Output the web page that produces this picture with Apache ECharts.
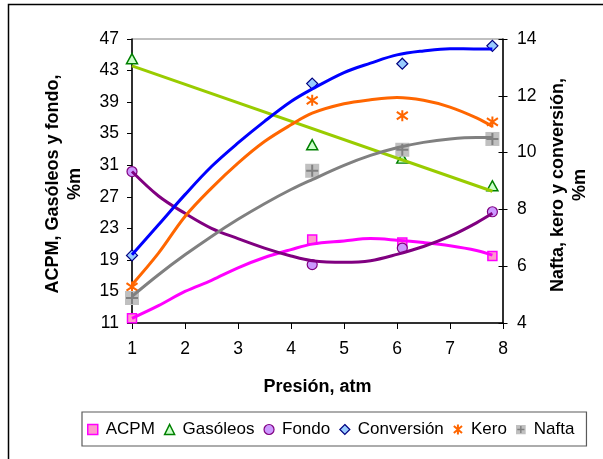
<!DOCTYPE html>
<html>
<head>
<meta charset="utf-8">
<script src="https://cdn.jsdelivr.net/npm/echarts@6/dist/echarts.min.js"></script>
<style>
  html, body { margin: 0; padding: 0; background: #fff; }
  #chart { width: 603px; height: 459px; }
</style>
</head>
<body>
<div id="chart"></div>
<script>
// Measured yields (%m) at each reactor pressure (atm)
const pressure   = [1, 4.4, 6.1, 7.8];
const acpm       = [11.6, 21.6, 21.2, 19.5];
const gasoleos   = [44.5, 33.6, 31.9, 28.4];
const fondo      = [30.2, 18.4, 20.5, 25.1];
const conversion = [6.38, 12.43, 13.13, 13.76];
const kero       = [5.27, 11.84, 11.3, 11.08];
const nafta      = [4.88, 9.36, 10.1, 10.48];

// Trend curves for each product
const trendX          = [1, 1.5, 2, 2.5, 3, 3.5, 4, 4.4, 5, 5.5, 6, 6.5, 7, 7.5, 7.8];
const acpmTrend       = [11.6, 13.2, 15.0, 16.4, 18.0, 19.3, 20.3, 21.0, 21.4, 21.7, 21.5, 21.2, 20.8, 20.2, 19.6];
const fondoTrend      = [30.2, 27.1, 24.9, 23.0, 21.7, 20.5, 19.5, 18.9, 18.7, 18.9, 19.7, 20.7, 22.0, 23.7, 24.9];
const conversionTrend = [6.4, 7.46, 8.52, 9.51, 10.34, 11.1, 11.8, 12.24, 12.82, 13.15, 13.44, 13.58, 13.66, 13.65, 13.65];
const keroTrend       = [5.35, 6.46, 7.75, 8.75, 9.63, 10.39, 10.98, 11.39, 11.72, 11.86, 11.94, 11.84, 11.6, 11.22, 10.92];
const naftaTrend      = [4.94, 5.7, 6.4, 7.05, 7.65, 8.2, 8.7, 9.05, 9.55, 9.9, 10.17, 10.36, 10.48, 10.53, 10.53];
const gasoleosTrendX  = [1, 7.8];
const gasoleosTrend   = [43.6, 27.7];

// Axis tick values
const xTicks     = [1, 2, 3, 4, 5, 6, 7, 8];
const leftTicks  = [11, 15, 19, 23, 27, 31, 35, 39, 43, 47];
const rightTicks = [4, 6, 8, 10, 12, 14];

const FONT = '"Liberation Sans", Arial, sans-serif';
const pairs = (xs, ys) => xs.map((x, i) => [x, ys[i]]);

const starPath = 'path://M5 0V10M0.9 1.6L9.1 8.4M0.9 8.4L9.1 1.6';
const plusPath = 'path://M5 0V10M0 5H10';
const naftaIcon = 'image://data:image/svg+xml;charset=utf-8,' + encodeURIComponent(
  '<svg xmlns="http://www.w3.org/2000/svg" width="14" height="14">' +
  '<rect width="14" height="14" fill="#C0C0C0"/>' +
  '<path d="M7 2V12M2 7H12" stroke="#808080" stroke-width="2"/></svg>');

function trend(name, xs, ys, color, axis) {
  return {
    name: name, type: 'line', yAxisIndex: axis,
    data: pairs(xs, ys), smooth: 0.35, showSymbol: false, symbol: 'none',
    lineStyle: { color: color, width: 3 }, itemStyle: { color: color },
    silent: true, z: 3
  };
}
function marks(name, ys, axis, symbol, size, fill, border, bw) {
  return {
    name: name, type: 'scatter', yAxisIndex: axis,
    data: pairs(pressure, ys), symbol: symbol, symbolSize: size,
    itemStyle: { color: fill, borderColor: border, borderWidth: bw, opacity: 1 },
    z: 2
  };
}

const chart = echarts.init(document.getElementById('chart'), null, { renderer: 'canvas' });
chart.setOption({
  animation: false,
  backgroundColor: '#fff',
  textStyle: { fontFamily: FONT },
  grid: {
    left: 132, top: 39, width: 371, height: 284,
    show: true, borderColor: '#808080', borderWidth: 1, backgroundColor: 'transparent'
  },
  xAxis: {
    type: 'value', min: xTicks[0], max: xTicks[xTicks.length - 1], interval: 1,
    name: 'Presión, atm', nameLocation: 'middle', nameGap: 55,
    nameTextStyle: { fontFamily: FONT, fontWeight: 'bold', fontSize: 18, color: '#000' },
    axisLine: { lineStyle: { color: '#000', width: 1.5 } },
    axisTick: { length: 6, lineStyle: { color: '#000', width: 1 } },
    axisLabel: { fontFamily: FONT, fontSize: 17.5, color: '#000', margin: 17 },
    splitLine: { show: false }
  },
  yAxis: [
    {
      type: 'value', position: 'left', min: 11, max: 47,
      axisLine: { show: true, lineStyle: { color: '#000', width: 1.5 } },
      axisTick: { show: true, length: 5, customValues: leftTicks, lineStyle: { color: '#000', width: 1 } },
      axisLabel: { customValues: leftTicks, fontFamily: FONT, fontSize: 17.5, color: '#000', margin: 13 },
      splitLine: { show: false }
    },
    {
      type: 'value', position: 'right', min: 4, max: 14, interval: 2,
      axisLine: { show: true, lineStyle: { color: '#000', width: 1.5 } },
      axisTick: { show: true, length: 4.5, customValues: rightTicks, lineStyle: { color: '#000', width: 1 } },
      axisLabel: { customValues: rightTicks, fontFamily: FONT, fontSize: 17.5, color: '#000', margin: 14 },
      splitLine: { show: false }
    },
    {
      // inner half of the crossing ticks on the right axis
      type: 'value', position: 'right', min: 4, max: 14, interval: 2,
      axisLine: { show: false },
      axisTick: { show: true, inside: true, length: 4.5, lineStyle: { color: '#000', width: 1 } },
      axisLabel: { show: false },
      splitLine: { show: false }
    }
  ],
  legend: {
    left: 82, top: 412,
    padding: [9, 12, 8, 5],
    itemWidth: 10, itemHeight: 10, itemGap: 9,
    borderColor: '#5a5a5a', borderWidth: 1.2,
    selectedMode: false,
    textStyle: { fontFamily: FONT, fontSize: 17, color: '#000', padding: [0, 0, 0, 3] },
    data: [
      { name: 'ACPM', icon: 'rect', itemStyle: { color: '#FF99CC', borderColor: '#FF00FF', borderWidth: 1.5 } },
      { name: 'Gasóleos', icon: 'triangle', itemStyle: { color: '#CCFFCC', borderColor: '#008000', borderWidth: 1.5 } },
      { name: 'Fondo', icon: 'circle', itemStyle: { color: '#CC99FF', borderColor: '#800080', borderWidth: 1.2 } },
      { name: 'Conversión', icon: 'diamond', itemStyle: { color: '#99CCFF', borderColor: '#000080', borderWidth: 1.2 } },
      { name: 'Kero', icon: starPath, itemStyle: { color: 'transparent', borderColor: '#FF6600', borderWidth: 2 } },
      { name: 'Nafta', icon: naftaIcon }
    ]
  },
  graphic: [
    {
      type: 'rect', silent: true, z: -10,
      shape: { x: 8.5, y: 4.5, width: 700, height: 600 },
      style: { fill: 'none', stroke: '#000', lineWidth: 1.5 }
    },
    {
      type: 'text', silent: true, x: 64, y: 184, rotation: Math.PI / 2,
      style: {
        text: 'ACPM, Gasóleos y fondo,\n%m', align: 'center', verticalAlign: 'middle',
        font: 'bold 18px ' + FONT, lineHeight: 22, fill: '#000'
      }
    },
    {
      type: 'text', silent: true, x: 569, y: 185, rotation: Math.PI / 2,
      style: {
        text: 'Nafta, kero y conversión,\n%m', align: 'center', verticalAlign: 'middle',
        font: 'bold 18px ' + FONT, lineHeight: 22, fill: '#000'
      }
    }
  ],
  series: [
    marks('ACPM', acpm, 0, 'rect', 9, '#FF99CC', '#FF00FF', 1.5),
    marks('Gasóleos', gasoleos, 0, 'triangle', [11, 10], '#CCFFCC', '#008000', 1.5),
    marks('Fondo', fondo, 0, 'circle', 10, '#CC99FF', '#800080', 1.2),
    marks('Conversión', conversion, 1, 'diamond', 11, '#99CCFF', '#000080', 1.2),
    marks('Kero', kero, 1, starPath, 11, 'transparent', '#FF6600', 2),
    marks('Nafta', nafta, 1, 'rect', 14, '#C0C0C0', '#C0C0C0', 0),
    marks('Nafta', nafta, 1, plusPath, 12, 'transparent', '#808080', 2),
    trend('ACPM (tendencia)', trendX, acpmTrend, '#FF00FF', 0),
    trend('Gasóleos (tendencia)', gasoleosTrendX, gasoleosTrend, '#99CC00', 0),
    trend('Fondo (tendencia)', trendX, fondoTrend, '#800080', 0),
    trend('Conversión (tendencia)', trendX, conversionTrend, '#0000FF', 1),
    trend('Kero (tendencia)', trendX, keroTrend, '#FF6600', 1),
    trend('Nafta (tendencia)', trendX, naftaTrend, '#808080', 1)
  ]
});
</script>
</body>
</html>
